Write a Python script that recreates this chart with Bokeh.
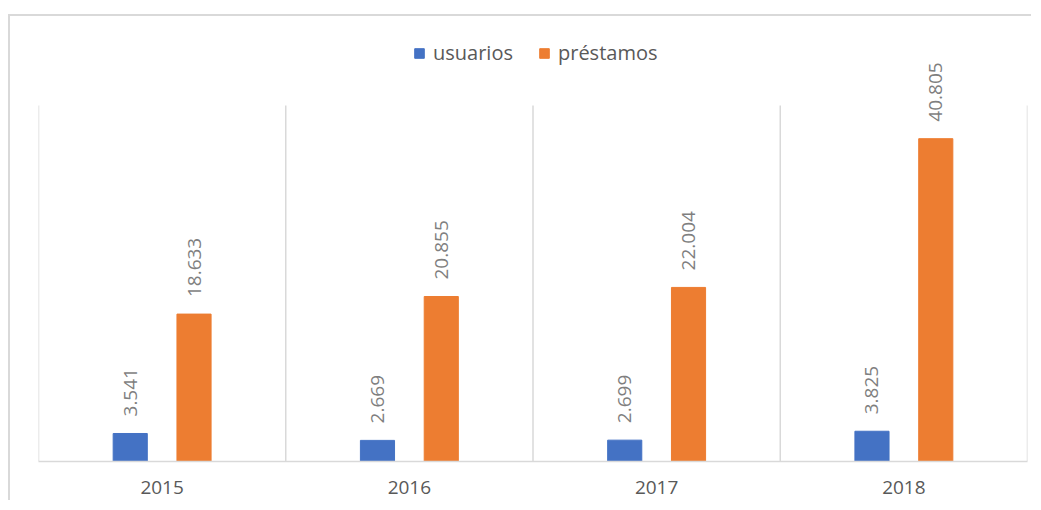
import math
from bokeh.plotting import figure
from bokeh.models import ColumnDataSource, FactorRange, Range1d, Legend, LegendItem
from bokeh.transform import dodge
from bokeh.core.properties import value
from bokeh.embed import file_html
from bokeh.resources import INLINE

years = ["2015", "2016", "2017", "2018"]
usuarios = [3541, 2669, 2699, 3825]
prestamos = [18633, 20855, 22004, 40805]
series_names = ["usuarios", "préstamos"]
colors = ["#4472C4", "#ED7D31"]
axis_max = 45000


def fmt(v):
    return f"{v:,}".replace(",", ".")


src = ColumnDataSource(dict(
    year=years,
    usuarios=usuarios,
    prestamos=prestamos,
    lab_u=[fmt(v) for v in usuarios],
    lab_p=[fmt(v) for v in prestamos],
))

# layout (pixels)
frame_h = 431
grid_h = 356
y_end = axis_max * frame_h / grid_h

p = figure(
    width=1023, height=486,
    x_range=FactorRange(factors=years, range_padding=0),
    y_range=Range1d(0, y_end),
    output_backend="svg", toolbar_location=None,
    min_border_left=28, min_border_right=6, min_border_top=14, min_border_bottom=41,
)
p.margin = (14, 0, 0, 8)
p.styles = {"border-top": "2px solid #d9d9d9", "border-left": "2px solid #d9d9d9"}
p.outline_line_color = None
p.background_fill_color = "white"
p.border_fill_color = "white"

# category separators
n = len(years)
sep = ColumnDataSource(dict(x=list(range(n + 1)), y0=[0] * (n + 1), y1=[axis_max] * (n + 1)))
p.segment(x0="x", x1="x", y0="y0", y1="y1", source=sep, line_color="#d9d9d9", line_width=1.5)

off = 0.129
bw = 0.138
r_u = p.vbar(x=dodge("year", -off, range=p.x_range), top="usuarios", width=bw,
             source=src, color=colors[0])
r_p = p.vbar(x=dodge("year", off, range=p.x_range), top="prestamos", width=bw,
             source=src, color=colors[1])

lab_style = dict(angle=math.pi / 2, text_align="left", text_baseline="middle",
                 y_offset=-17, text_font=value("Open Sans"), text_font_size="19px",
                 text_color="#7f7f7f")
p.text(x=dodge("year", -off, range=p.x_range), y="usuarios", text="lab_u", source=src, **lab_style)
p.text(x=dodge("year", off, range=p.x_range), y="prestamos", text="lab_p", source=src, **lab_style)

p.ygrid.visible = False
p.xgrid.visible = False
p.yaxis.visible = False
ax = p.xaxis[0]
ax.axis_line_color = "#d9d9d9"
ax.axis_line_width = 1.5
ax.major_tick_line_color = None
ax.minor_tick_line_color = None
ax.major_label_text_font = "Open Sans"
ax.major_label_text_font_size = "19px"
ax.major_label_text_color = "#595959"
ax.major_label_standoff = 13

legend = Legend(
    items=[LegendItem(label=series_names[0], renderers=[r_u]),
           LegendItem(label=series_names[1], renderers=[r_p])],
    orientation="horizontal", location=(375, 395),
    glyph_width=12, glyph_height=12, label_standoff=8, spacing=25,
    label_text_font="Open Sans", label_text_font_size="20px", label_text_color="#595959",
    border_line_color=None, background_fill_alpha=0, padding=0, margin=0,
)
p.add_layout(legend, "center")

open("out.html", "w").write(file_html(p, INLINE))
